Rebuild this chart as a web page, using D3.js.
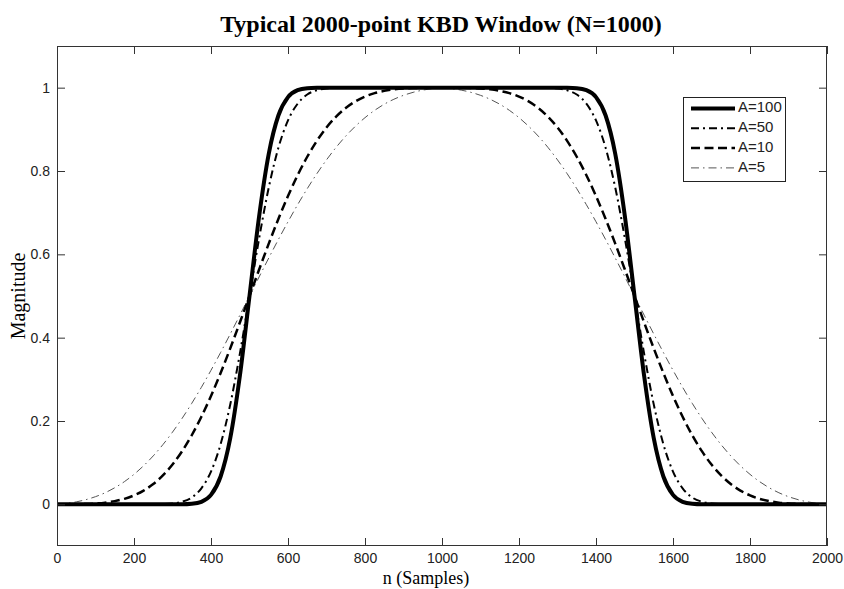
<!DOCTYPE html>
<html>
<head>
<meta charset="utf-8">
<script src="https://cdn.jsdelivr.net/npm/d3@7"></script>
<style>
  body { margin: 0; background: #fff; }
  svg { display: block; }
</style>
</head>
<body>
<div id="chart"></div>
<script>
// sample positions (n) shared by every curve
const sampleN = [0,25,50,75,100,125,150,175,200,225,250,275,300,325,350,375,400,425,450,475,
  500,525,550,575,600,625,650,675,700,725,750,775,800,825,850,875,900,925,950,975,
  1000,1025,1050,1075,1100,1125,1150,1175,1200,1225,1250,1275,1300,1325,1350,1375,1400,1425,1450,1475,
  1500,1525,1550,1575,1600,1625,1650,1675,1700,1725,1750,1775,1800,1825,1850,1875,1900,1925,1950,1975,2000];

// magnitudes
const a100 = [0,0,0,0,0,0,0,0,0,0,0,0,0,0,.0012,.0060,.0227,.0668,.1587,.3085,
  .5,.6915,.8413,.9332,.9773,.9940,.9988,.9998,1,1,1,1,1,1,1,1,1,1,1,1,
  1,1,1,1,1,1,1,1,1,1,1,1,1,.9998,.9988,.9940,.9773,.9332,.8413,.6915,
  .5,.3085,.1587,.0668,.0227,.0060,.0012,0,0,0,0,0,0,0,0,0,0,0,0,0,0];

const a50 = [0,0,0,0,0,0,0,0,0,0,.0002,.0007,.0021,.0063,.0164,.0385,.0787,.1444,.2398,.3618,
  .5,.6382,.7602,.8556,.9213,.9615,.9836,.9937,.9979,.9993,.9998,1,1,1,1,1,1,1,1,1,
  1,1,1,1,1,1,1,1,1,1,.9998,.9993,.9979,.9937,.9836,.9615,.9213,.8556,.7602,.6382,
  .5,.3618,.2398,.1444,.0787,.0385,.0164,.0063,.0021,.0007,.0002,0,0,0,0,0,0,0,0,0,0];

const a10 = [0,.0001,.0003,.0009,.0020,.0041,.0077,.0132,.0214,.0330,.0487,.0694,.0955,.1276,.1658,.2101,.2601,.3152,.3744,.4365,
  .5,.5635,.6256,.6848,.7399,.7899,.8342,.8724,.9045,.9306,.9513,.9670,.9786,.9868,.9923,.9959,.9980,.9991,.9997,.9999,
  1,.9999,.9997,.9991,.9980,.9959,.9923,.9868,.9786,.9670,.9513,.9306,.9045,.8724,.8342,.7899,.7399,.6848,.6256,.5635,
  .5,.4365,.3744,.3152,.2601,.2101,.1658,.1276,.0955,.0694,.0487,.0330,.0214,.0132,.0077,.0041,.0020,.0009,.0003,.0001,0];

const a5 = [0,.0023,.0059,.0112,.0184,.0278,.0398,.0544,.0720,.0926,.1163,.1432,.1733,.2064,.2424,.2809,.3218,.3645,.4088,.4541,
  .5,.5459,.5912,.6355,.6782,.7191,.7576,.7936,.8267,.8568,.8837,.9074,.9280,.9456,.9603,.9722,.9816,.9888,.9941,.9977,
  1,.9977,.9941,.9888,.9816,.9722,.9603,.9456,.9280,.9074,.8837,.8568,.8267,.7936,.7576,.7191,.6782,.6355,.5912,.5459,
  .5,.4541,.4088,.3645,.3218,.2809,.2424,.2064,.1733,.1432,.1163,.0926,.0720,.0544,.0398,.0278,.0184,.0112,.0059,.0023,0];

const seriesNames = ["A=100", "A=50", "A=10", "A=5"];
const seriesValues = [a100, a50, a10, a5];

const xTicks = [0,200,400,600,800,1000,1200,1400,1600,1800,2000];
const yTicks = [0,0.2,0.4,0.6,0.8,1];

let width = 844,
    height = 589,
    margin = ({ top: 46, right: 17, bottom: 43, left: 57 });

// line look for each series
const styles = [
  { color: "#000", width: 4, dash: null },
  { color: "#000", width: 2, dash: "8,4,2,4" },
  { color: "#000", width: 2.5, dash: "9,4.5" },
  { color: "#555", width: 1, dash: "8,4,1.5,4" }
];

const svg = d3.select("#chart")
  .append("svg")
  .attr("width", width)
  .attr("height", height)
  .style("background", "#fff");

let x = d3.scaleLinear()
  .domain([0, 2000])
  .range([margin.left, width - margin.right]);

let y = d3.scaleLinear()
  .domain([-0.1, 1.1])
  .range([height - margin.bottom, margin.top]);

svg.append("clipPath")
  .attr("id", "plotclip")
  .append("rect")
  .attr("x", margin.left)
  .attr("y", margin.top)
  .attr("width", width - margin.left - margin.right)
  .attr("height", height - margin.top - margin.bottom);

let line = d3.line()
  .x(d => x(d[0]))
  .y(d => y(d[1]))
  .curve(d3.curveMonotoneX);

let curves = svg.append("g").attr("clip-path", "url(#plotclip)");

// draw the thin ones first so the thick solid line sits on top
for (let i = seriesNames.length - 1; i >= 0; i--) {
  let pts = sampleN.map((n, j) => [n, seriesValues[i][j]]);
  curves.append("path")
    .datum(pts)
    .attr("fill", "none")
    .attr("stroke", styles[i].color)
    .attr("stroke-width", styles[i].width)
    .attr("stroke-dasharray", styles[i].dash)
    .attr("stroke-linejoin", "round")
    .attr("d", line);
}

// axes box, ticks inward on all four sides
const axisColor = "#333";
const tickLen = 8;

let axes = svg.append("g");

axes.append("g")
  .attr("transform", `translate(0,${height - margin.bottom})`)
  .call(d3.axisBottom(x).tickValues(xTicks).tickSize(-tickLen).tickPadding(7).tickFormat(d => d));

axes.append("g")
  .attr("transform", `translate(0,${margin.top})`)
  .call(d3.axisTop(x).tickValues(xTicks).tickSize(-tickLen).tickFormat(""));

axes.append("g")
  .attr("transform", `translate(${margin.left},0)`)
  .call(d3.axisLeft(y).tickValues(yTicks).tickSize(-tickLen).tickPadding(7).tickFormat(d => d));

axes.append("g")
  .attr("transform", `translate(${width - margin.right},0)`)
  .call(d3.axisRight(y).tickValues(yTicks).tickSize(-tickLen).tickFormat(""));

axes.selectAll(".domain").remove();

axes.append("rect")
  .attr("x", margin.left + 0.5)
  .attr("y", margin.top + 0.5)
  .attr("width", width - margin.left - margin.right - 1)
  .attr("height", height - margin.top - margin.bottom - 1)
  .attr("fill", "none")
  .attr("stroke", axisColor);

axes.selectAll(".tick line").attr("stroke", axisColor);
axes.selectAll(".tick text")
  .attr("fill", "#222")
  .style("font-family", "'Liberation Sans', Arial, sans-serif")
  .style("font-size", "14px");

// legend
let legend = svg.append("g");

legend.append("rect")
  .attr("x", 683.5)
  .attr("y", 97.5)
  .attr("width", 102)
  .attr("height", 84)
  .attr("fill", "#fff")
  .attr("stroke", "#222");

seriesNames.forEach((name, i) => {
  let ly = 108.5 + i * 19.8;
  legend.append("line")
    .attr("x1", 691)
    .attr("x2", 735)
    .attr("y1", ly)
    .attr("y2", ly)
    .attr("stroke", styles[i].color)
    .attr("stroke-width", styles[i].width)
    .attr("stroke-dasharray", styles[i].dash);
  legend.append("text")
    .text(name)
    .attr("x", 738)
    .attr("y", ly)
    .attr("dominant-baseline", "middle")
    .attr("fill", "#222")
    .style("font-family", "'Liberation Sans', Arial, sans-serif")
    .style("font-size", "15px");
});

// titles
svg.append("text")
  .text("Typical 2000-point KBD Window (N=1000)")
  .attr("x", 441)
  .attr("y", 32)
  .attr("text-anchor", "middle")
  .style("font-family", "'Liberation Serif', 'Times New Roman', serif")
  .style("font-weight", "bold")
  .style("font-size", "24px");

svg.append("text")
  .text("n (Samples)")
  .attr("x", 426)
  .attr("y", 584)
  .attr("text-anchor", "middle")
  .style("font-family", "'Liberation Serif', 'Times New Roman', serif")
  .style("font-size", "18px");

svg.append("text")
  .text("Magnitude")
  .attr("transform", `translate(25,${(margin.top + height - margin.bottom) / 2}) rotate(-90)`)
  .attr("text-anchor", "middle")
  .style("font-family", "'Liberation Serif', 'Times New Roman', serif")
  .style("font-size", "20px");
</script>
</body>
</html>
